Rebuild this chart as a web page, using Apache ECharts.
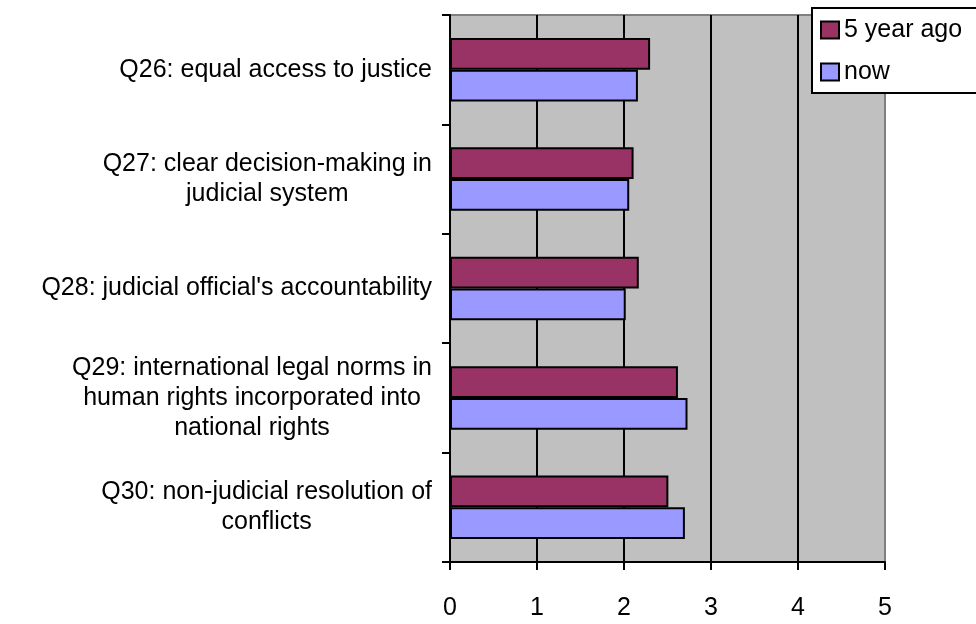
<!DOCTYPE html>
<html>
<head>
<meta charset="utf-8">
<script src="https://cdn.jsdelivr.net/npm/echarts@6/dist/echarts.min.js"></script>
<style>html,body{margin:0;padding:0;background:#fff;}#c{width:976px;height:624px;}</style>
</head>
<body>
<div id="c"></div>
<script>
var categories = [
  "Q26: equal access to justice",
  "Q27: clear decision-making in\njudicial system",
  "Q28: judicial official's accountability",
  "Q29: international legal norms in\nhuman rights incorporated into\nnational rights",
  "Q30: non-judicial resolution of\nconflicts"
];
var seriesNames = ["5 year ago", "now"];
var fiveYearAgo = [2.30, 2.11, 2.17, 2.62, 2.51];
var nowValues = [2.16, 2.06, 2.02, 2.73, 2.70];
var xTicks = { min: 0, max: 5, interval: 1 };

var FONT = "Arial, 'Liberation Sans', sans-serif";
var chart = echarts.init(document.getElementById('c'), null, { renderer: 'canvas' });
chart.setOption({
  animation: false,
  backgroundColor: '#ffffff',
  textStyle: { fontFamily: FONT },
  grid: {
    left: 450, right: 91, top: 15, bottom: 62,
    show: true, backgroundColor: '#C0C0C0', borderColor: '#808080', borderWidth: 2
  },
  legend: {
    data: seriesNames,
    orient: 'vertical',
    left: 812, top: 8,
    backgroundColor: '#ffffff',
    borderColor: '#000000', borderWidth: 2, borderRadius: 0,
    padding: [9, 30, 8, 8],
    itemWidth: 18, itemHeight: 17, itemGap: 16,
    icon: 'rect',
    textStyle: { fontSize: 25, lineHeight: 26, color: '#000', fontFamily: FONT }
  },
  xAxis: {
    type: 'value',
    min: xTicks.min, max: xTicks.max, interval: xTicks.interval,
    axisLine: { show: true, lineStyle: { color: '#000', width: 2 } },
    axisTick: { show: true, length: 8, lineStyle: { color: '#000', width: 2 } },
    axisLabel: { fontSize: 25, color: '#000', margin: 34, fontFamily: FONT },
    splitLine: { show: true, lineStyle: { color: ['#000', '#000', '#000', '#000', '#000', '#808080'], width: 2 } }
  },
  yAxis: {
    type: 'category',
    inverse: true,
    data: categories,
    axisLine: { show: true, lineStyle: { color: '#000', width: 2 } },
    axisTick: { show: true, length: 8, lineStyle: { color: '#000', width: 2 } },
    axisLabel: {
      margin: 18,
      color: '#000',
      fontSize: 25,
      lineHeight: 30,
      fontFamily: FONT,
      formatter: function (v) {
        return v.split('\n').map(function (s) { return '{c|' + s + '}'; }).join('\n');
      },
      rich: { c: { align: 'center', fontSize: 25, lineHeight: 30, color: '#000', fontFamily: FONT } }
    },
    splitLine: { show: false }
  },
  series: [
    {
      name: seriesNames[0], type: 'bar', data: fiveYearAgo,
      barGap: '0%', barCategoryGap: '42%',
      itemStyle: { color: '#993366', borderColor: '#000', borderWidth: 2 }
    },
    {
      name: seriesNames[1], type: 'bar', data: nowValues,
      barGap: '0%', barCategoryGap: '42%',
      itemStyle: { color: '#9999FF', borderColor: '#000', borderWidth: 2 }
    }
  ]
});
</script>
</body>
</html>
